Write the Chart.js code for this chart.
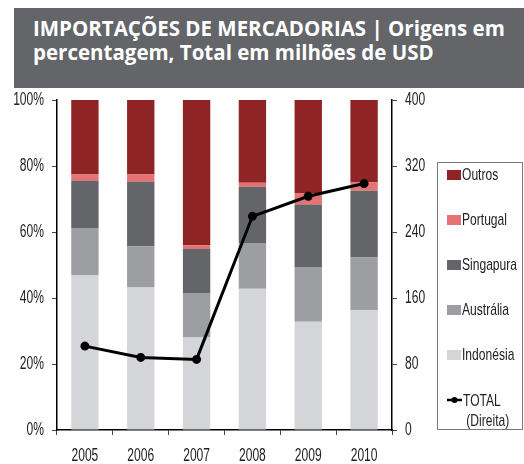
<!DOCTYPE html>
<html>
<head>
<meta charset="utf-8">
<script src="https://cdn.jsdelivr.net/npm/chart.js@4.4.1/dist/chart.umd.min.js"></script>
<style>
    html, body { margin: 0; padding: 0; background: #fff; }
    #wrap { position: relative; width: 524px; height: 464px; overflow: hidden; }
    #title {
        position: absolute; left: 14px; top: 8px; width: 510px; height: 80px;
        background: #636569; color: #fff;
        font-family: "Open Sans", "Noto Sans", sans-serif; font-weight: 700;
        font-size: 20.5px; line-height: 24px; box-sizing: border-box; padding: 8px 0 0 19px;
        white-space: nowrap;
    }
    #chart { position: absolute; left: 0; top: 0; }
    #legend {
        position: absolute; left: 437px; top: 162px; width: 86px; height: 268px;
        border: 1px solid #7a7a7a; box-sizing: border-box;
        font-family: "Liberation Sans", Arial, sans-serif;
        font-size: 17px; color: #222;
    }
    .item { position: absolute; left: 9px; display: flex; align-items: center; height: 18px; }
    .sw { width: 14px; height: 10px; margin-right: 1px; flex: none; }
    .txt { display: inline-block; transform: scaleX(0.71); transform-origin: left center; white-space: nowrap; }
</style>
</head>
<body>
<div id="wrap">
    <canvas id="chart" width="524" height="464"></canvas>
    <div id="title">IMPORTAÇÕES DE MERCADORIAS | Origens em<br>percentagem, Total em milhões de USD</div>
    <div id="legend"></div>
</div>
<script>
// Dados
const years = ['2005', '2006', '2007', '2008', '2009', '2010'];
const indonesia = [47.0, 43.2, 28.0, 42.8, 32.8, 36.3];
const australia = [14.2, 12.5, 13.5, 13.9, 16.6, 16.0];
const singapura = [14.3, 19.5, 13.4, 17.0, 18.9, 20.2];
const portugal = [1.9, 2.2, 1.1, 1.2, 3.5, 2.6];
const outros = [22.6, 22.6, 44.0, 25.1, 28.2, 24.9];
const total = [101.7, 88.0, 85.6, 259, 283.3, 298.7];

const leftTicks = [0, 20, 40, 60, 80, 100];
const rightTicks = [0, 80, 160, 240, 320, 400];

const barSets = [
    {label: 'Indonésia', data: indonesia, backgroundColor: '#d4d5d9'},
    {label: 'Austrália', data: australia, backgroundColor: '#9d9ea2'},
    {label: 'Singapura', data: singapura, backgroundColor: '#636569'},
    {label: 'Portugal', data: portugal, backgroundColor: '#e57373'},
    {label: 'Outros', data: outros, backgroundColor: '#8e2424'}
];

const datasets = [{
    type: 'line',
    label: 'TOTAL',
    data: total,
    yAxisID: 'y1',
    borderColor: '#000',
    backgroundColor: '#000',
    borderWidth: 3,
    pointRadius: 3,
    pointHoverRadius: 3,
    tension: 0,
    order: 0
}].concat(barSets.map(s => ({
    type: 'bar',
    label: s.label,
    data: s.data,
    backgroundColor: s.backgroundColor,
    barPercentage: 0.49,
    categoryPercentage: 1,
    yAxisID: 'y',
    order: 1
})));

// rótulos dos eixos em fonte condensada (texto comprimido na horizontal)
const condensedLabels = {
    id: 'condensedLabels',
    afterDraw(chart) {
        const ctx = chart.ctx;
        const put = (text, px, py, align) => {
            ctx.save();
            ctx.translate(px, py);
            ctx.scale(0.67, 1);
            ctx.textAlign = align;
            ctx.textBaseline = 'middle';
            ctx.fillText(text, 0, 0);
            ctx.restore();
        };
        ctx.save();
        ctx.font = '18px "Liberation Sans", Arial, sans-serif';
        ctx.fillStyle = '#222';
        const {x, y, y1} = chart.scales;
        x.ticks.forEach((t, i) => put(x.getLabelForValue(t.value), x.getPixelForTick(i), 456, 'center'));
        leftTicks.forEach(v => put(v + '%', y.left + 44, y.getPixelForValue(v), 'right'));
        rightTicks.forEach(v => put(String(v), y1.left + 13, y1.getPixelForValue(v), 'left'));
        ctx.restore();
    }
};

new Chart(document.getElementById('chart').getContext('2d'), {
    data: {labels: years, datasets: datasets},
    plugins: [condensedLabels],
    options: {
        responsive: false,
        animation: false,
        layout: {padding: {top: 100, left: 0, right: 0, bottom: 0}},
        plugins: {legend: {display: false}, tooltip: {enabled: false}},
        scales: {
            x: {
                stacked: true,
                grid: {drawOnChartArea: false, drawTicks: true, tickLength: 5, color: '#444', offset: true},
                border: {display: true, color: '#000', width: 1.5},
                ticks: {display: false},
                afterFit: (s) => { s.height = 34; }
            },
            y: {
                stacked: true,
                min: 0, max: 100,
                afterBuildTicks: (s) => { s.ticks = leftTicks.map(v => ({value: v})); },
                grid: {drawOnChartArea: false, drawTicks: true, tickLength: 5, color: '#444'},
                border: {display: true, color: '#000', width: 1.5},
                ticks: {display: false},
                afterFit: (s) => { s.width = 57; }
            },
            y1: {
                position: 'right',
                min: 0, max: 400,
                afterBuildTicks: (s) => { s.ticks = rightTicks.map(v => ({value: v})); },
                grid: {drawOnChartArea: false, drawTicks: true, tickLength: 5, color: '#444'},
                border: {display: true, color: '#000', width: 1.5},
                ticks: {display: false},
                afterFit: (s) => { s.width = 132; }
            }
        }
    }
});

// Legenda em HTML (Outros no topo)
const legend = document.getElementById('legend');
barSets.slice().reverse().forEach((s, i) => {
    const el = document.createElement('div');
    el.className = 'item';
    el.style.top = (3 + i * 45) + 'px';
    el.innerHTML = '<span class="sw" style="background:' + s.backgroundColor + '"></span><span class="txt">' + s.label + '</span>';
    legend.appendChild(el);
});
const tot = document.createElement('div');
tot.className = 'item';
tot.style.top = (3 + 5 * 45) + 'px';
tot.style.alignItems = 'flex-start';
tot.innerHTML = '<svg width="15" height="18" style="margin-right:1px;flex:none"><line x1="0" y1="9" x2="15" y2="9" stroke="#000" stroke-width="2.5"/><circle cx="7.5" cy="9" r="3" fill="#000"/></svg><span class="txt" style="line-height:20px">TOTAL<br>&nbsp;(Direita)</span>';
legend.appendChild(tot);
</script>
</body>
</html>
